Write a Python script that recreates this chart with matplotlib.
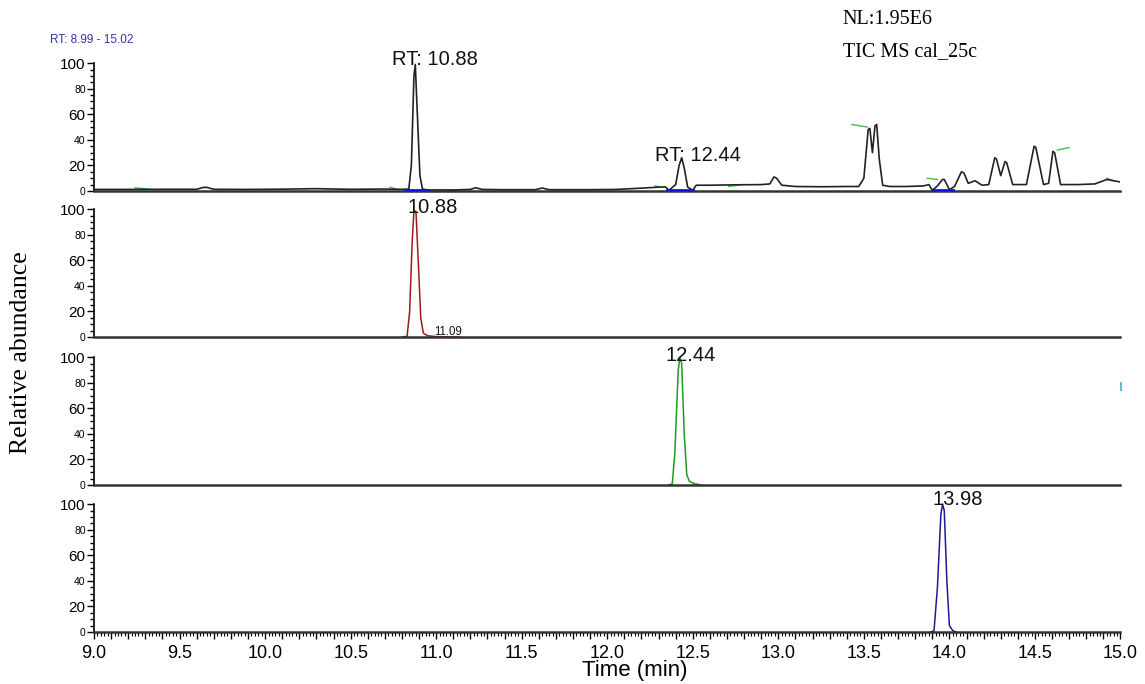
import matplotlib
matplotlib.use('Agg')
import matplotlib.pyplot as plt
from matplotlib.ticker import MultipleLocator, FixedLocator, FuncFormatter

plt.rcParams['font.family'] = ['Liberation Sans', 'DejaVu Sans']

# TIC trace (time in min, relative abundance %)
tic_t = [9.00, 9.20, 9.40, 9.60, 9.64, 9.66, 9.70, 9.90, 10.10, 10.30, 10.50, 10.70, 10.80,
         10.84, 10.855, 10.87, 10.878, 10.89, 10.905, 10.92, 10.95, 11.10, 11.20, 11.23,
         11.27, 11.40, 11.58, 11.62, 11.66, 11.90, 12.05, 12.20, 12.30, 12.34, 12.36,
         12.40, 12.42, 12.435, 12.45, 12.47, 12.50, 12.52, 12.60, 12.75, 12.90, 12.95,
         12.975, 12.99, 13.02, 13.10, 13.25, 13.40, 13.47, 13.50, 13.525, 13.535, 13.55,
         13.565, 13.575, 13.59, 13.61, 13.65, 13.75, 13.85, 13.88, 13.90, 13.93, 13.96,
         13.97, 14.00, 14.03, 14.07, 14.085, 14.11, 14.15, 14.19, 14.23, 14.265, 14.275,
         14.30, 14.325, 14.335, 14.37, 14.45, 14.495, 14.505, 14.55, 14.58, 14.605, 14.615,
         14.65, 14.75, 14.85, 14.92, 15.00]
tic_v = [1.2, 1.2, 1.3, 1.3, 2.8, 2.8, 1.3, 1.2, 1.4, 1.8, 1.3, 1.5, 1.3,
         1.5, 20, 90, 99, 60, 12, 1.5, 0.8, 0.8, 1.2, 2.5,
         1.2, 1.0, 1.0, 2.3, 1.0, 1.0, 1.2, 2.2, 3.0, 3.2, 0.5,
         5.0, 20, 26, 18, 3.0, 0.5, 4.5, 4.5, 4.8, 5.0, 5.5,
         11, 10, 4.5, 3.5, 3.3, 3.5, 3.5, 10, 48, 49, 30,
         51, 52, 25, 4.5, 3.5, 3.5, 4.0, 5.0, 0.5, 4.0, 9.0,
         9.0, 1.0, 3.5, 15, 14, 6.0, 8.0, 4.5, 5.0, 26, 25,
         12, 23, 22, 5.0, 5.0, 35, 34, 5.0, 6.0, 31, 30,
         5.0, 5.0, 5.5, 9.0, 7.0]

# green baseline ticks on the TIC: (t0, v0, t1, v1)
tic_green = [(9.24, 2.5, 9.33, 1.3), (10.73, 3.0, 10.78, 1.0), (12.28, 4.0, 12.31, 3.0),
             (12.71, 3.5, 12.79, 5.0), (13.43, 52, 13.52, 50), (13.87, 10, 13.93, 9),
             (14.63, 32, 14.70, 34), (14.92, 10, 14.96, 8)]
# blue integration baselines on the TIC
tic_blue = [(10.82, 10.95), (12.35, 12.50), (13.91, 14.02)]

# extracted ion traces
red_t = [10.80, 10.83, 10.845, 10.86, 10.87, 10.882, 10.895, 10.91, 10.925, 10.95, 11.00, 11.14]
red_v = [0, 0.5, 20, 75, 99, 98, 60, 15, 3, 1, 0.3, 0]
green_t = [12.36, 12.38, 12.395, 12.415, 12.425, 12.435, 12.45, 12.465, 12.48, 12.51, 12.55]
green_v = [0, 1, 25, 90, 100, 95, 40, 8, 3, 1, 0]
blue_t = [13.89, 13.91, 13.93, 13.95, 13.96, 13.97, 13.985, 14.00, 14.02, 14.04]
blue_v = [0, 1, 35, 92, 100, 95, 40, 5, 1, 0]

# peak labels: (panel, text, t, v, size)
peak_labels = [(0, 'RT: 10.88', 10.99, 103, 14.5), (0, 'RT: 12.44', 12.53, 28, 14.5),
               (1, '10.88', 10.98, 101, 14.5), (1, '11.09', 11.07, 4, 8.3),
               (2, '12.44', 12.49, 101, 14.5), (3, '13.98', 14.05, 104, 14.5)]

fig = plt.figure(figsize=(11.45, 6.84), dpi=100)
left, width, h = 0.0821, 0.8965, 0.2149
bottoms = [0.7208, 0.5073, 0.2909, 0.076]
axes = [fig.add_axes([left, b, width, h]) for b in bottoms]

for i, ax in enumerate(axes):
    ax.set_xlim(9.0, 15.0)
    ax.set_ylim(0, 115)
    ax.patch.set_alpha(0)
    for s in ['top', 'right']:
        ax.spines[s].set_visible(False)
    ax.spines['left'].set_bounds(0, 100)
    ax.spines['left'].set_linewidth(1.2)
    ax.spines['bottom'].set_color('#333333')
    ax.spines['bottom'].set_linewidth(1.8)
    ax.set_yticks([0, 20, 40, 60, 80, 100])
    ax.yaxis.set_minor_locator(FixedLocator(list(range(0, 101, 5))))
    ax.tick_params(axis='y', which='major', length=5, width=1, pad=1, labelsize=7.5)
    ax.tick_params(axis='y', which='minor', length=3, width=1)
    for lab, val in zip(ax.get_yticklabels(), [0, 20, 40, 60, 80, 100]):
        if val in (20, 60, 100):
            lab.set_fontsize(11)
    if i < 3:
        ax.set_xticks([])
        ax.tick_params(axis='x', which='both', length=0)

ax0 = axes[0]
ax0.plot(tic_t, tic_v, color='#222222', lw=1.2, zorder=3)
for t0, v0, t1, v1 in tic_green:
    ax0.plot([t0, t1], [v0, v1], color='#4cbb4c', lw=1.0, zorder=2)
for t0, t1 in tic_blue:
    ax0.plot([t0, t1], [0.6, 0.6], color='#1010ee', lw=2.0, zorder=4)

axes[1].plot(red_t, red_v, color='#a01818', lw=1.1)
axes[2].plot(green_t, green_v, color='#1f9a1f', lw=1.1)
axes[2].plot([15.005, 15.005], [74, 80], color='#55c8c8', lw=1.5, clip_on=False)
axes[3].plot(blue_t, blue_v, color='#1a1a9a', lw=1.1)

for p, txt, t, v, sz in peak_labels:
    axes[p].text(t, v, txt, ha='center', va='center', fontsize=sz, color='#111111', zorder=5)

ax3 = axes[3]
ax3.xaxis.set_major_locator(MultipleLocator(0.1))
ax3.xaxis.set_minor_locator(MultipleLocator(0.02))
ax3.xaxis.set_major_formatter(FuncFormatter(
    lambda x, pos: f'{x:.1f}' if abs(x * 2 - round(x * 2)) < 1e-6 else ''))
ax3.tick_params(axis='x', which='major', length=5, width=1, labelsize=13, pad=4)
ax3.tick_params(axis='x', which='minor', length=3, width=0.8)
ax3.set_xlabel('Time (min)', fontsize=16)
ax3.xaxis.set_label_coords(0.527, -0.19)

fig.text(0.044, 0.937, 'RT: 8.99 - 15.02', fontsize=8.5, color='#3333aa')
fig.text(0.736, 0.971, 'NL:1.95E6', fontsize=14.5, family='Liberation Serif', va='center')
fig.text(0.736, 0.925, 'TIC MS cal_25c', fontsize=14.5, family='Liberation Serif', va='center')
fig.text(0.018, 0.485, 'Relative abundance', fontsize=18.5, family='Liberation Serif',
         rotation=90, ha='center', va='center')

fig.savefig('out.png', dpi=100)
